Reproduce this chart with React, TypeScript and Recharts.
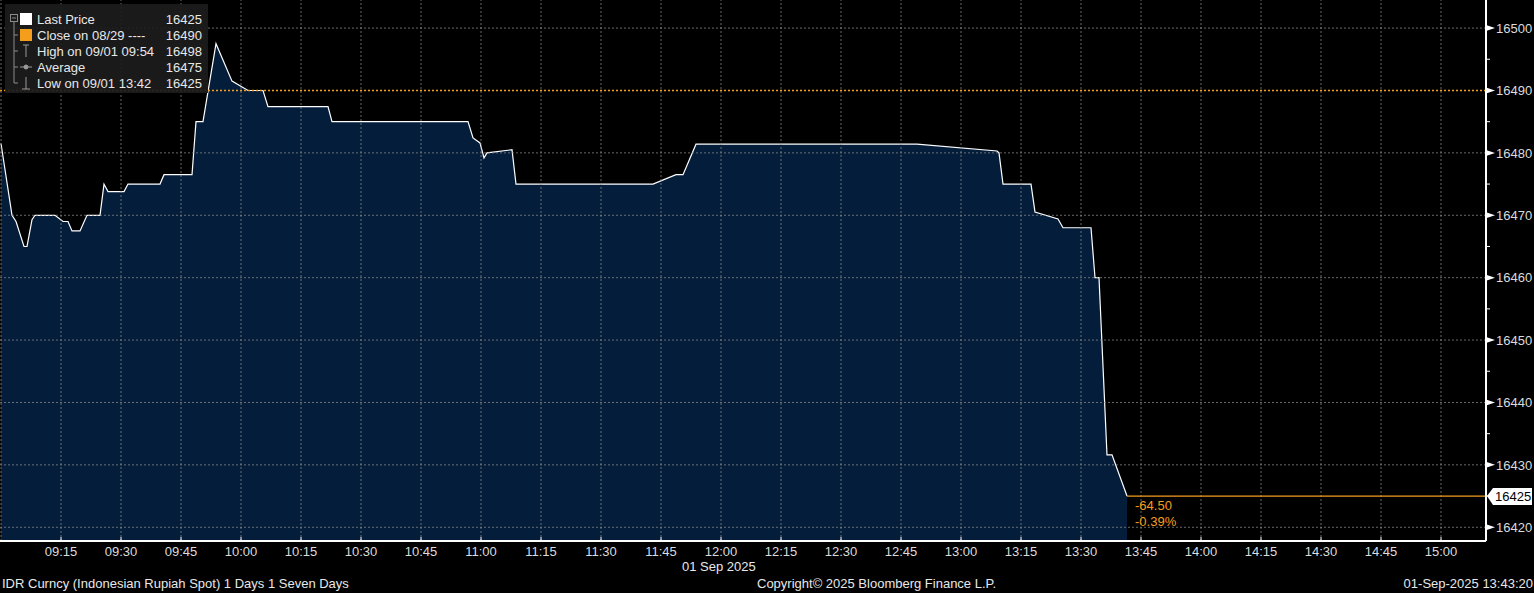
import { Area, ComposedChart, ReferenceLine, XAxis, YAxis } from "recharts";

// minutes after 09:00 and IDR spot prices
const minutes = [
  0, 2.75, 3.75, 5.75, 6.5, 7.75, 8.5, 13.5, 15.5, 16.75, 17.75, 19.75, 21.5, 24.75,
  25.75, 26.75, 30.75, 31.75, 39.75, 40.75, 47.75, 48.75, 50.5, 53.75, 57.75, 61.75,
  65.5, 66.75, 81.75, 82.75, 116.75, 118, 119.75, 120.75, 121.5, 127.75, 128.75, 163,
  168.75, 170.5, 173.75, 229, 249, 249.5, 250.5, 257.5, 258.5, 264.25, 265.5, 272.5,
  273.5, 274.5, 276.5, 277.75, 281.5,
];
const prices = [
  16481.5, 16470, 16469, 16465, 16465, 16469.3, 16470, 16470, 16469, 16469, 16467.5,
  16467.5, 16470, 16470, 16475, 16473.8, 16473.8, 16475, 16475, 16476.5, 16476.5, 16485,
  16485, 16497.5, 16491.5, 16490, 16490, 16487.4, 16487.4, 16485, 16485, 16482.4,
  16481.6, 16479.2, 16480, 16480.5, 16475, 16475, 16476.5, 16476.5, 16481.4, 16481.4,
  16480.3, 16480, 16475, 16475, 16470.5, 16469.4, 16468, 16468, 16460, 16460, 16431.6,
  16431.6, 16425,
];

const timeTicks = [15, 30, 45, 60, 75, 90, 105, 120, 135, 150, 165, 180, 195, 210, 225, 240, 255, 270, 285, 300, 315, 330, 345, 360];
const gridTimes = [0, ...timeTicks];
const priceTicks = [16420, 16425, 16430, 16435, 16440, 16445, 16450, 16455, 16460, 16465, 16470, 16475, 16480, 16485, 16490, 16495, 16500];
const gridPrices = [16420, 16430, 16440, 16450, 16460, 16470, 16480, 16490, 16500];

const prevClose = 16490;
const lastPrice = 16425;
const lastTime = 281.5;
const change = "-64.50";
const changePct = "-0.39%";

const legendRows = [
  { label: "Last Price", value: "16425", icon: "white" },
  { label: "Close on 08/29 ----", value: "16490", icon: "orange" },
  { label: "High on 09/01 09:54", value: "16498", icon: "high" },
  { label: "Average", value: "16475", icon: "avg" },
  { label: "Low on 09/01 13:42", value: "16425", icon: "low" },
];

const data = minutes.map((m, i) => ({ t: m, price: prices[i] }));

const FONT = "'Liberation Sans', Arial, sans-serif";
const FS = 13;
const ORANGE = "#f59d1c";
const TEXT = "#dcdcdc";

function fmtTime(m: number) {
  const h = 9 + Math.floor(m / 60);
  const mm = m % 60;
  return `${String(h).padStart(2, "0")}:${String(mm).padStart(2, "0")}`;
}

function TimeTick({ x, y, payload }: any) {
  return (
    <g>
      <line x1={x} y1={y} x2={x} y2={y - 4} stroke="#fff" />
      <text x={x} y={y + 10} dy="0.35em" textAnchor="middle" fill={TEXT} fontSize={FS} fontFamily={FONT}>
        {fmtTime(payload.value)}
      </text>
    </g>
  );
}

function PriceTick({ x, y, payload }: any) {
  const v = payload.value;
  if (v % 10 !== 0) return <line x1={x} y1={y} x2={x + 4} y2={y} stroke="#fff" />;
  return (
    <g>
      <path d={`M${x},${y - 3}L${x + 9},${y}L${x},${y + 3}Z`} fill="#fff" />
      <text x={x + 10} y={y} dy="0.36em" fill={TEXT} fontSize={FS} fontFamily={FONT}>
        {v}
      </text>
    </g>
  );
}

function LastLabel({ viewBox }: any) {
  const x0 = viewBox.x;
  const x1 = viewBox.x + viewBox.width;
  const y = viewBox.y;
  return (
    <g fontFamily={FONT} fontSize={FS}>
      <text x={x0 + 8} y={y + 9} dy="0.35em" fill={ORANGE}>{change}</text>
      <text x={x0 + 8} y={y + 25} dy="0.35em" fill={ORANGE}>{changePct}</text>
      <path d={`M${x1 + 1},${y}L${x1 + 7},${y - 8}L${x1 + 46},${y - 8}L${x1 + 46},${y + 9}L${x1 + 7},${y + 9}Z`} fill="#fff" />
      <text x={x1 + 9} y={y} dy="0.36em" fill="#000">{lastPrice}</text>
    </g>
  );
}

function LegendIcon({ kind }: { kind: string }) {
  if (kind === "white") return <rect x={0} y={-6} width={12} height={12} fill="#fff" />;
  if (kind === "orange") return <rect x={0} y={-6} width={12} height={12} fill={ORANGE} />;
  if (kind === "high")
    return (
      <g stroke="#9a9a9a">
        <line x1={3} y1={-6} x2={9} y2={-6} />
        <line x1={6} y1={-6} x2={6} y2={6} />
      </g>
    );
  if (kind === "avg")
    return (
      <g stroke="#9a9a9a">
        <line x1={0} y1={0} x2={12} y2={0} />
        <circle cx={6} cy={0} r={2} fill="#9a9a9a" />
      </g>
    );
  return (
    <g stroke="#9a9a9a">
      <line x1={6} y1={-6} x2={6} y2={6} />
      <line x1={2} y1={6} x2={10} y2={6} />
    </g>
  );
}

function Legend() {
  return (
    <svg style={{ position: "absolute", left: 0, top: 0 }} width={212} height={96}>
      <rect x={5} y={4} width={203} height={89} fill="#1c1c1c" fillOpacity={0.92} />
      <g stroke="#8a8a8a" fill="none">
        <rect x={10.5} y={14.5} width={7} height={7} />
        <line x1={12} y1={18} x2={16} y2={18} />
        <line x1={14} y1={22} x2={14} y2={83} />
        {legendRows.slice(1).map((_, i) => (
          <line key={i} x1={14} y1={35 + i * 16} x2={18} y2={35 + i * 16} />
        ))}
      </g>
      {legendRows.map((r, i) => (
        <g key={r.label} transform={`translate(0, ${19 + i * 16})`}>
          <g transform="translate(20, 0)">
            <LegendIcon kind={r.icon} />
          </g>
          <text x={37} y={0} dy="0.36em" fill="#e8e8e8" fontSize={FS} fontFamily={FONT}>
            {r.label}
          </text>
          <text x={202} y={0} dy="0.36em" textAnchor="end" fill="#e8e8e8" fontSize={FS} fontFamily={FONT}>
            {r.value}
          </text>
        </g>
      ))}
    </svg>
  );
}

const footStyle: React.CSSProperties = {
  position: "absolute",
  fontFamily: FONT,
  fontSize: FS,
  color: "#e8e8e8",
  whiteSpace: "nowrap",
  lineHeight: "14px",
};

export default function App() {
  return (
    <div style={{ position: "relative", width: 1534, height: 593, background: "#000" }}>
      <style>{`body{margin:0;background:#000}`}</style>
      <ComposedChart width={1534} height={593} data={data} margin={{ top: 0, right: 0, bottom: 32, left: 0 }}>
        <XAxis
          dataKey="t"
          type="number"
          domain={[-0.25, 371.25]}
          ticks={timeTicks}
          tick={<TimeTick />}
          tickSize={0}
          tickMargin={0}
          tickLine={false}
          height={20}
          axisLine={{ stroke: "#fff", strokeWidth: 2 }}
          allowDataOverflow
        />
        <YAxis
          orientation="right"
          type="number"
          domain={[16417.8, 16504.5]}
          ticks={priceTicks}
          tick={<PriceTick />}
          tickSize={0}
          tickMargin={0}
          tickLine={false}
          width={48}
          axisLine={{ stroke: "#fff", strokeWidth: 2 }}
          allowDataOverflow
        />
        <Area
          type="linear"
          dataKey="price"
          stroke="#fff"
          strokeWidth={1.2}
          fill="#041d3b"
          fillOpacity={1}
          isAnimationActive={false}
          dot={false}
          activeDot={false}
        />
        {gridPrices.map((p) => (
          <ReferenceLine key={`h${p}`} y={p} stroke="#8c8c8c" strokeOpacity={0.75} strokeDasharray="2 2" />
        ))}
        {gridTimes.map((m) => (
          <ReferenceLine key={`v${m}`} x={m} stroke="#8c8c8c" strokeOpacity={0.75} strokeDasharray="2 2" />
        ))}
        <ReferenceLine y={prevClose} stroke={ORANGE} strokeWidth={1.5} strokeDasharray="2 2" />
        <ReferenceLine
          segment={[
            { x: lastTime, y: lastPrice },
            { x: 371.25, y: lastPrice },
          ]}
          stroke={ORANGE}
          strokeWidth={1.2}
          label={<LastLabel />}
        />
      </ComposedChart>
      <Legend />
      <div style={{ ...footStyle, left: 682, top: 560 }}>01 Sep 2025</div>
      <div style={{ ...footStyle, left: 2, top: 577 }}>IDR Curncy (Indonesian Rupiah Spot) 1 Days 1 Seven Days</div>
      <div style={{ ...footStyle, left: 757, top: 577 }}>Copyright© 2025 Bloomberg Finance L.P.</div>
      <div style={{ ...footStyle, right: 1, top: 577 }}>01-Sep-2025 13:43:20</div>
    </div>
  );
}
